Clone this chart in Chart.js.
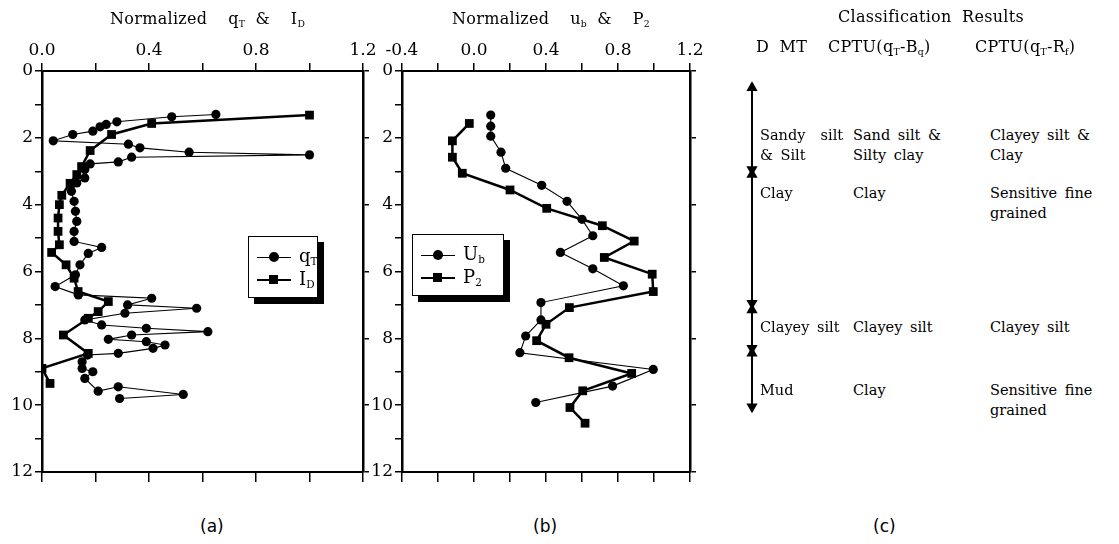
<!DOCTYPE html>
<html>
<head>
<meta charset="utf-8">
<script src="https://cdn.jsdelivr.net/npm/chart.js@4.4.1/dist/chart.umd.min.js"></script>
<style>
body { margin: 0; background: #fff; }
#wrap { position: relative; width: 1119px; height: 544px; overflow: hidden; font-family: "DejaVu Serif", serif; color: #000; }
canvas { position: absolute; }
.t { position: absolute; white-space: nowrap; font-size: 14.5px; line-height: 20px; word-spacing: 3px; z-index: 5; }
.big { font-size: 16px; letter-spacing: 0.3px; word-spacing: 5px; }
.cap { position: absolute; font-family: "DejaVu Sans", sans-serif; font-size: 17px; z-index: 5; }
.legend { position: absolute; background: #fff; border: 1.5px solid #000; box-shadow: 6px 6px 0 #000; z-index: 6; padding: 7px 8px; font-size: 18px; }
.legend div { height: 23px; line-height: 23px; white-space: nowrap; }
.mk { display: inline-block; position: relative; width: 34px; height: 22px; vertical-align: middle; margin-right: 8px; }
.mk .ln { position: absolute; left: 0; right: 0; top: 11px; border-top: 1px solid #000; }
.mk .ln.thick { border-top-width: 2.5px; top: 10px; }
.mk .pt { position: absolute; left: 12px; top: 6px; width: 10px; height: 10px; background: #000; border-radius: 50%; }
.mk .pt.sq { border-radius: 0; width: 9px; height: 9px; left: 12px; top: 6px; }
sub { font-size: 58%; vertical-align: -3px; }
</style>
</head>
<body>
<div id="wrap">
  <canvas id="chartA" width="380" height="492" style="left:0;top:0"></canvas>
  <canvas id="chartB" width="341" height="492" style="left:366px;top:0"></canvas>
  <canvas id="chartC" width="30" height="492" style="left:737px;top:0"></canvas>

  <div class="t big" style="left:110px;top:9px">Normalized&nbsp; q<sub>T</sub> &amp;&nbsp; I<sub>D</sub></div>
  <div class="t big" style="left:452px;top:9px">Normalized&nbsp; u<sub>b</sub> &amp;&nbsp; P<sub>2</sub></div>

  <div class="legend" style="left:248px;top:236px;width:52px">
    <div><span class="mk"><span class="ln"></span><span class="pt"></span></span>q<sub>T</sub></div>
    <div><span class="mk"><span class="ln thick"></span><span class="pt sq"></span></span>I<sub>D</sub></div>
  </div>
  <div class="legend" style="left:412px;top:234px;width:74px">
    <div><span class="mk"><span class="ln"></span><span class="pt"></span></span>U<sub>b</sub></div>
    <div><span class="mk"><span class="ln thick"></span><span class="pt sq"></span></span>P<sub>2</sub></div>
  </div>

  <div class="t big" style="left:838px;top:7px">Classification Results</div>
  <div class="t big" style="left:756px;top:37px">D MT</div>
  <div class="t big" style="left:828px;top:37px">CPTU(q<sub>T</sub>-B<sub>q</sub>)</div>
  <div class="t big" style="left:975px;top:37px">CPTU(q<sub>T</sub>-R<sub>f</sub>)</div>

  <div id="classText"></div>

  <div class="cap" style="left:200px;top:516px">(a)</div>
  <div class="cap" style="left:533px;top:516px">(b)</div>
  <div class="cap" style="left:873px;top:516px">(c)</div>
</div>
<script>
// ---- panel (a): normalized qT and ID vs depth (m)
const qtDepth = [1.30, 1.37, 1.52, 1.60, 1.67, 1.80, 1.90, 2.09, 2.19, 2.30, 2.43, 2.51, 2.58, 2.72, 2.78, 2.95,
                 3.20, 3.35, 3.60, 3.90, 4.20, 4.50, 4.80, 5.10, 5.28, 5.46, 5.80, 6.10, 6.45, 6.70, 6.80, 7.00,
                 7.10, 7.25, 7.45, 7.60, 7.70, 7.80, 7.90, 8.03, 8.10, 8.20, 8.30, 8.45, 8.50, 8.70, 8.90, 9.00,
                 9.20, 9.58, 9.45, 9.68, 9.80];
const qtValue = [0.65, 0.485, 0.28, 0.24, 0.217, 0.19, 0.115, 0.042, 0.323, 0.366, 0.55, 1.0, 0.335, 0.285, 0.18, 0.16,
                 0.16, 0.13, 0.11, 0.12, 0.125, 0.13, 0.12, 0.12, 0.223, 0.173, 0.142, 0.125, 0.049, 0.136, 0.41, 0.32,
                 0.578, 0.31, 0.16, 0.223, 0.39, 0.62, 0.335, 0.248, 0.39, 0.46, 0.415, 0.285, 0.17, 0.15, 0.15, 0.19,
                 0.16, 0.21, 0.285, 0.528, 0.29];
const idDepth = [1.32, 1.57, 1.90, 2.38, 2.86, 3.10, 3.36, 3.72, 4.00, 4.40, 4.80, 5.20, 5.43, 5.80, 6.20, 6.60,
                 6.90, 7.20, 7.40, 7.90, 8.45, 8.90, 9.35];
const idValue = [1.0, 0.41, 0.26, 0.18, 0.148, 0.13, 0.105, 0.074, 0.065, 0.06, 0.06, 0.065, 0.036, 0.09, 0.12, 0.135,
                 0.248, 0.21, 0.173, 0.08, 0.173, 0.0, 0.03];

// ---- panel (b): normalized ub and P2 vs depth (m)
const ubDepth = [1.32, 1.65, 1.95, 2.43, 2.91, 3.42, 3.90, 4.44, 4.93, 5.43, 5.92, 6.43, 6.93, 7.45, 7.93, 8.43, 8.93, 9.43, 9.92];
const ubValue = [0.093, 0.093, 0.093, 0.15, 0.176, 0.376, 0.517, 0.60, 0.66, 0.48, 0.66, 0.83, 0.372, 0.372, 0.287, 0.255, 0.996, 0.77, 0.343];
const p2Depth = [1.57, 2.09, 2.58, 3.06, 3.56, 4.11, 4.63, 5.09, 5.58, 6.08, 6.60, 7.08, 7.58, 8.07, 8.58, 9.05, 9.57, 10.07, 10.54];
const p2Value = [-0.026, -0.12, -0.12, -0.065, 0.20, 0.404, 0.713, 0.89, 0.724, 0.99, 0.996, 0.53, 0.40, 0.348, 0.528, 0.876, 0.604, 0.533, 0.617];

// ---- panel (c): layers (depth range) and classification
const layerTop = [0.5, 3.1, 7.15, 8.45];
const layerBottom = [2.95, 6.95, 8.3, 10.05];
const dmtClass = ['Sandy&nbsp; silt<br>&amp; Silt', 'Clay', 'Clayey silt', 'Mud'];
const bqClass = ['Sand silt &amp;<br>Silty clay', 'Clay', 'Clayey silt', 'Clay'];
const rfClass = ['Clayey silt &amp;<br>Clay', 'Sensitive fine<br>grained', 'Clayey silt', 'Sensitive fine<br>grained'];
const textTop = [125, 183, 317, 380];

const depthMin = 0, depthMax = 12;
const black = '#000';
const tickFont = { family: "'DejaVu Serif', serif", size: 17 };

function pts(xs, ys) {
  return xs.map((v, i) => ({ x: v, y: ys[i] }));
}

function isMajor(v, step) {
  return Math.abs(Math.round(v / step) * step - v) < 1e-6;
}

function makePanel(id, datasets, xMin, xMax, leftWidth) {
  const ctx = document.getElementById(id).getContext('2d');
  return new Chart(ctx, {
    type: 'scatter',
    data: { datasets: datasets },
    options: {
      responsive: false,
      animation: false,
      events: [],
      layout: { padding: 0 },
      plugins: { legend: { display: false }, tooltip: { enabled: false } },
      scales: {
        x: {
          type: 'linear', position: 'top', min: xMin, max: xMax,
          ticks: {
            stepSize: 0.2, autoSkip: false, maxRotation: 0, color: black, font: tickFont, padding: 2,
            callback: v => isMajor(v, 0.4) ? v.toFixed(1) : ''
          },
          grid: { drawOnChartArea: false, drawTicks: true, tickLength: 8, color: black, lineWidth: 1.5 },
          border: { display: true, color: black, width: 2 },
          afterFit: s => { s.height = 71; }
        },
        x2: {
          type: 'linear', position: 'bottom', min: xMin, max: xMax,
          ticks: { display: false, stepSize: 0.2, autoSkip: false },
          grid: { drawOnChartArea: false, drawTicks: true, tickLength: 10, color: black, lineWidth: 1.5 },
          border: { display: true, color: black, width: 2 },
          afterFit: s => { s.height = 20; }
        },
        y: {
          type: 'linear', position: 'left', min: depthMin, max: depthMax, reverse: true,
          ticks: { stepSize: 1, autoSkip: false, color: black, font: tickFont, padding: 2,
                   callback: v => v % 2 === 0 ? String(v) : '' },
          grid: { drawOnChartArea: false, drawTicks: true, tickLength: 7, color: black, lineWidth: 1.5 },
          border: { display: true, color: black, width: 2.5 },
          afterFit: s => { s.width = leftWidth; }
        },
        y2: {
          type: 'linear', position: 'right', min: depthMin, max: depthMax, reverse: true,
          ticks: { display: false, stepSize: 2 },
          grid: { drawOnChartArea: false, drawTicks: true, tickLength: 6, color: black, lineWidth: 1.5 },
          border: { display: true, color: black, width: 2.5 },
          afterFit: s => { s.width = 17; }
        }
      }
    }
  });
}

function series(label, xs, ys, thick, style) {
  return {
    label: label,
    data: pts(xs, ys),
    showLine: true,
    borderColor: black,
    backgroundColor: black,
    borderWidth: thick ? 2.5 : 1.1,
    pointStyle: style,
    pointRadius: style === 'rect' ? 6.2 : 4.6,
    pointBorderWidth: 0,
    pointBackgroundColor: black,
    xAxisID: 'x',
    yAxisID: 'y'
  };
}

makePanel('chartA', [
  series('qT', qtValue, qtDepth, false, 'circle'),
  series('ID', idValue, idDepth, true, 'rect')
], 0, 1.2, 42);

makePanel('chartB', [
  series('Ub', ubValue, ubDepth, false, 'circle'),
  series('P2', p2Value, p2Depth, true, 'rect')
], -0.4, 1.2, 36);

// ---- panel (c): double arrows for layer ranges
const arrowSets = layerTop.map((top, i) => ({
  data: [{ x: 0, y: top }, { x: 0, y: layerBottom[i] }],
  showLine: true,
  borderColor: black,
  borderWidth: 2,
  pointStyle: 'triangle',
  pointRadius: 4.5,
  pointRotation: [0, 180],
  pointBackgroundColor: black,
  pointBorderColor: black
}));

new Chart(document.getElementById('chartC').getContext('2d'), {
  type: 'scatter',
  data: { datasets: arrowSets },
  options: {
    responsive: false,
    animation: false,
    events: [],
    layout: { padding: { top: 71, bottom: 20, left: 0, right: 0 } },
    plugins: { legend: { display: false }, tooltip: { enabled: false } },
    scales: {
      x: { display: false, min: -1, max: 1 },
      y: { display: false, min: depthMin, max: depthMax, reverse: true }
    }
  }
});

// classification text
const holder = document.getElementById('classText');
const colX = [760, 853, 990];
[dmtClass, bqClass, rfClass].forEach((col, c) => {
  col.forEach((txt, i) => {
    const d = document.createElement('div');
    d.className = 't';
    d.style.left = colX[c] + 'px';
    d.style.top = textTop[i] + 'px';
    d.innerHTML = txt;
    holder.appendChild(d);
  });
});
</script>
</body>
</html>
